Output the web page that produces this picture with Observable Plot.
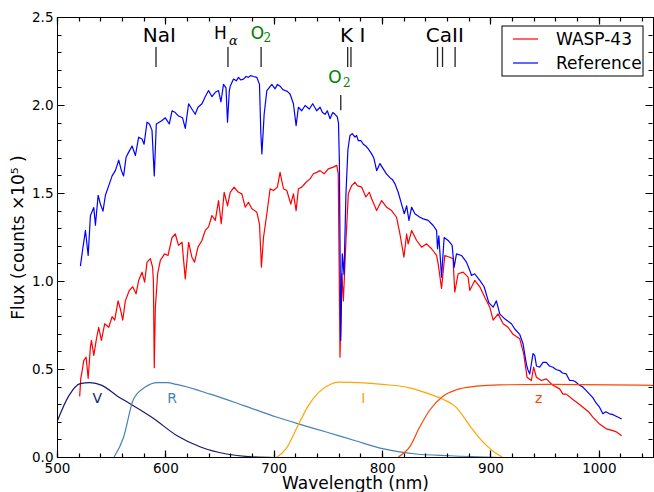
<!DOCTYPE html>
<html><head><meta charset="utf-8">
<script src="https://cdn.jsdelivr.net/npm/d3@7"></script>
<script src="https://cdn.jsdelivr.net/npm/@observablehq/plot@0.6"></script>
<style>
body{margin:0;background:#fff;}
#chart{width:654px;height:492px;}
g[aria-label="x-axis label"], g[aria-label="y-axis label"]{font-size:17px;}
</style></head><body><div id="chart"></div>
<script>
// Reference spectrum (blue)
const refWl = [521.2,523.3,525.8,528.3,530.4,533.5,535,537.5,539.6,542,544.2,547.3,550.4,553.4,556.5,559,561,563.3,565.7,568.8,571.9,574.9,578,579.9,582.6,584.8,587.2,589.3,591.2,596.5,599.5,603.2,605.7,608.7,611.7,615.4,617.9,621,624,627.1,629.6,633.3,636.3,639.4,642.5,645.6,648.6,650.8,653.2,655.5,656.9,658.5,659.4,662.4,665,667,669,671.6,674,676.2,678,680.8,683.9,686.4,687.6,688.6,689.8,690.7,693.2,697.8,700.8,703,705.4,708,710,712,714.6,717.7,720.2,722.3,725.4,728.5,732.4,735.5,739.2,742.3,744.5,746.9,749,751.5,754,756.1,758.2,759.3,760.1,761.4,762.8,764.4,766.2,768,769.9,772,774.5,776,777.6,780,782.2,784.5,786.8,789.9,792,794.5,797.6,800.6,803.7,806.8,809,811.4,814.4,817.5,820,822.2,824.3,826.8,829.8,834.4,837.5,842.1,846.7,849.8,850.7,851.9,854.4,856.8,860.5,864.2,866,868.2,872.8,877.4,880.5,882,885,889.7,893.7,898,902,905,908.1,912.7,918.9,922,926.5,929.6,932.7,934,935.8,937,938.8,940.4,942,945,948,951.1,954,957.2,960,963.4,966,969.5,972.6,975.6,978,981.8,984.9,987.9,991,994,997,1000.2,1003.3,1006,1009.4,1012,1014,1017,1020.2];
const refFlux = [1.09,1.186,1.29,1.148,1.375,1.42,1.32,1.49,1.44,1.40,1.49,1.545,1.60,1.63,1.69,1.63,1.60,1.706,1.735,1.77,1.716,1.82,1.81,1.78,1.905,1.895,1.86,1.60,1.895,1.915,1.93,1.895,1.97,1.96,1.94,1.93,1.87,2.01,1.98,1.95,1.99,2.01,2.05,2.085,2.05,2.075,2.085,2.02,2.12,2.10,1.905,2.08,2.11,2.15,2.14,2.16,2.145,2.15,2.165,2.16,2.17,2.165,2.16,2.12,1.85,1.725,1.85,1.95,2.085,2.12,2.095,2.12,2.11,2.09,2.085,2.08,2.065,2.01,1.886,1.99,1.97,2.0,1.98,2.01,1.97,1.99,1.96,1.95,1.97,1.925,1.96,1.95,1.935,1.90,1.69,0.665,1.157,1.04,1.50,1.75,1.83,1.84,1.82,1.83,1.80,1.80,1.78,1.77,1.754,1.725,1.70,1.63,1.67,1.64,1.61,1.59,1.58,1.555,1.507,1.44,1.385,1.43,1.347,1.422,1.385,1.365,1.356,1.347,1.318,1.29,1.186,1.26,1.025,1.25,1.233,1.205,1.08,1.157,1.148,1.11,1.063,1.034,1.044,1.006,0.97,0.88,0.854,0.89,0.816,0.788,0.76,0.73,0.70,0.646,0.53,0.50,0.475,0.52,0.59,0.58,0.52,0.513,0.54,0.54,0.52,0.513,0.50,0.494,0.48,0.475,0.4375,0.4375,0.43,0.41,0.40,0.38,0.36,0.34,0.31,0.286,0.248,0.26,0.248,0.245,0.239,0.23,0.22];

// WASP-43 spectrum (red)
const waspWl = [520.5,521.5,522.7,524.2,526.4,528.3,530.4,531.3,533.5,535.7,538,540.5,543.6,547.3,550.4,552.8,555.9,558,560.2,562.6,566.3,569.4,572.5,574.9,578,580.4,582.6,585.7,587.8,588.5,589.3,590.3,592.4,594.9,598.8,602,605.7,608.7,611.7,614.9,617.9,621,624,626.5,629.6,633.3,636.3,639.4,642.5,645.6,648.6,651.1,653.8,656.9,659.4,663,667,670.1,673.2,676.2,679.4,683.9,686.4,688.2,690.1,693.2,696.2,699.3,702.9,705.4,708.5,711.6,715.3,717.7,720.2,722.3,725.4,729.4,733.1,736.1,739.2,742.3,746,749.9,754.5,757.7,759.1,760.7,762.3,763.8,766.2,768.4,771.5,774.5,776.6,780.7,784.6,787.7,789.9,794.5,799.1,803.7,808.3,812.9,816,819.7,822.2,823.6,826.8,831.4,836,840.6,845.2,849.8,851.3,854.4,857.4,862,865,866.6,869.7,874.3,878.9,880.5,885.1,889.7,894.3,898.9,902,906.6,911.2,915.8,920.4,926.5,930.2,933.3,937.3,939.4,941.9,946.5,951.1,957.2,963.4,966.4,969.5,975.6,980,984.9,990,994,1000.2,1006.4,1012.5,1016,1020.2];
const waspFlux = [0.35,0.45,0.49,0.55,0.57,0.45,0.63,0.665,0.58,0.665,0.74,0.665,0.76,0.74,0.80,0.78,0.89,0.845,0.78,0.89,0.95,0.97,0.93,1.006,1.053,0.996,1.11,1.13,1.08,1.0,0.51,0.85,1.044,1.12,1.157,1.148,1.25,1.27,1.205,1.223,1.015,1.223,1.138,1.11,1.195,1.233,1.29,1.31,1.375,1.347,1.46,1.328,1.507,1.43,1.507,1.536,1.507,1.498,1.422,1.45,1.413,1.394,1.328,1.081,1.25,1.385,1.527,1.517,1.536,1.62,1.527,1.517,1.44,1.498,1.403,1.527,1.536,1.564,1.583,1.612,1.62,1.63,1.612,1.64,1.65,1.66,1.61,0.57,1.044,0.89,1.233,1.50,1.545,1.564,1.545,1.536,1.48,1.507,1.47,1.403,1.46,1.422,1.403,1.365,1.27,1.138,1.27,1.214,1.29,1.233,1.195,1.214,1.186,1.148,1.10,0.96,1.148,1.138,1.13,0.94,1.044,1.053,1.025,0.95,1.006,0.97,0.91,0.854,0.78,0.816,0.76,0.74,0.70,0.675,0.59,0.456,0.4375,0.513,0.456,0.4375,0.447,0.41,0.39,0.36,0.36,0.33,0.31,0.286,0.26,0.229,0.19,0.163,0.153,0.145,0.125];

// Filter transmission curves (scaled)
const vWl = [500,510.4,521,530,541,555,567,589,610,632,656,676,700];
const vT  = [0.21,0.35,0.42,0.425,0.41,0.35,0.305,0.22,0.125,0.06,0.02,0.005,0];
const rWl = [552,561,570,581,592,601,610,641,672,702,723,748,775,800,831,862,910];
const rT  = [0,0.115,0.33,0.40,0.425,0.425,0.415,0.36,0.295,0.23,0.19,0.145,0.095,0.05,0.02,0.01,0];
const iWl = [702,711,721,731.5,741,751.5,760,779,800,825,843.6,856,868,880.5,892.7,902,911];
const iT  = [0,0.05,0.17,0.295,0.37,0.415,0.428,0.425,0.415,0.396,0.36,0.33,0.285,0.18,0.087,0.036,0];
const zWl = [815,825,834,843.6,856,868,886.6,908,954,1050];
const zT  = [0.005,0.06,0.17,0.27,0.35,0.385,0.405,0.413,0.415,0.41];

const filterNames = ["V","R","I","z"];
const filterColors = ["#191970","#4682b4","#ffa500","#ff4500"];
const filterLabelX = [536.6,605.7,782.2,944];
const filterLabelY = 0.335;

// Line identifications
const lineLabels = ["NaI","K I","CaII"];
const lineLabelX = [594,772.4,857.4];
const lineMarkX = [590.9,657.3,687.9,767.8,770.8,850.7,855.3,866.9];
const lowerMarkX = [761.4];
const markY1 = 2.216, markY2 = 2.33, lowY1 = 1.97, lowY2 = 2.057;

const xTicks = [500,600,700,800,900,1000];
const yTicks = [0,0.5,1.0,1.5,2.0,2.5];
const xMinor = d3.range(500,1051,20);
const yMinor = d3.range(0,2.501,0.1);

const toRows = (xs, ys) => xs.map((x,i)=>({x, y: ys[i]}));
const ref = toRows(refWl, refFlux);
const wasp = toRows(waspWl, waspFlux);
const filters = [toRows(vWl,vT), toRows(rWl,rT), toRows(iWl,iT), toRows(zWl,zT)];
const F = "DejaVu Sans";

const W = 654, H = 492, MT = 17, MR = 1, MB = 35, ML = 57;

const plot = Plot.plot({
  width: W, height: H,
  marginTop: MT, marginRight: MR, marginBottom: MB, marginLeft: ML,
  style: {fontFamily: F, fontSize: "13.5px", color: "black", background: "white", overflow: "visible"},
  x: {domain: [500,1050]},
  y: {domain: [0,2.5]},
  marks: [
    Plot.line(wasp, {x:"x", y:"y", stroke:"#ff0000", strokeWidth:1.2}),
    Plot.line(ref, {x:"x", y:"y", stroke:"#0000ff", strokeWidth:1.2}),
    ...filters.map((d,i)=>Plot.line(d, {x:"x", y:"y", stroke: filterColors[i], strokeWidth:1.2, curve:"monotone-x"})),
    Plot.text(filterNames, {x: (d,i)=>filterLabelX[i], y: filterLabelY, text: d=>d, fill: (d,i)=>filterColors[i], fontSize: 14, fontFamily: F}),
    Plot.ruleX(lineMarkX, {x: d=>d, y1: markY1, y2: markY2, stroke:"#222", strokeWidth:1.3}),
    Plot.ruleX(lowerMarkX, {x: d=>d, y1: lowY1, y2: lowY2, stroke:"#222", strokeWidth:1.3}),
    Plot.text(lineLabels, {x:(d,i)=>lineLabelX[i], y: 2.399, text: d=>d, fontSize: 20, fontFamily: F, fill:"black"}),
    Plot.text(["H"], {x: 650.4, y: 2.41, text: d=>d, fontSize: 17, fontFamily: F, fill:"black"}),
    Plot.text(["α"], {x: 662.4, y: 2.365, text: d=>d, fontSize: 13, fontFamily: "DejaVu Serif", fontStyle: "italic", fill:"black"}),
    Plot.text(["O"], {x: 684.5, y: 2.41, text: d=>d, fontSize: 17, fontFamily: F, fill:"green"}),
    Plot.text(["2"], {x: 693.7, y: 2.38, text: d=>d, fontSize: 12, fontFamily: "DejaVu Serif", fill:"green"}),
    Plot.text(["O"], {x: 756.1, y: 2.161, text: d=>d, fontSize: 17, fontFamily: F, fill:"green"}),
    Plot.text(["2"], {x: 766.9, y: 2.128, text: d=>d, fontSize: 12, fontFamily: "DejaVu Serif", fill:"green"}),
    Plot.frame({stroke:"black", strokeWidth:1}),
    Plot.axisX({anchor:"bottom", ticks: xTicks, tickSize:0, tickPadding:6, tickFormat: d=>String(d), label:"Wavelength (nm)", labelAnchor:"center", labelArrow:"none", labelOffset:31}),
    Plot.axisY({anchor:"left", ticks: yTicks, tickSize:0, tickPadding:4, tickFormat: d3.format(".1f"), label:"Flux (counts ×10⁵ )", labelAnchor:"center", labelArrow:"none", labelOffset:46})
  ]
});

const svg = d3.select(plot);
// inward ticks on all four sides, positioned through the plot's own scales
const sx = plot.scale("x"), sy = plot.scale("y");
const tg = svg.append("g").attr("stroke", "black").attr("stroke-width", 1.2).attr("fill", "none");
const bottomY = H - MB + 0.5, topY = MT + 0.5, leftX = ML + 0.5, rightX = W - MR - 0.5;
const addXTicks = (vals, len) => vals.forEach(v => {
  const px = Math.round(sx.apply(v)) + 0.5;
  tg.append("path").attr("d", `M${px},${bottomY}V${bottomY - len}M${px},${topY}V${topY + len}`);
});
const addYTicks = (vals, len) => vals.forEach(v => {
  const py = Math.round(sy.apply(v)) + 0.5;
  tg.append("path").attr("d", `M${leftX},${py}H${leftX + len}M${rightX},${py}H${rightX - len}`);
});
addXTicks(xTicks, 7); addXTicks(xMinor, 4);
addYTicks(yTicks, 7); addYTicks(yMinor, 4);

// Legend box (upper right)
const legendNames = ["WASP-43","Reference"];
const legendColors = ["#ff0000","#0000ff"];
const lg = svg.append("g").attr("font-family", F).attr("font-size", 17).attr("text-anchor", "start");
lg.append("rect").attr("x",502).attr("y",26).attr("width",141).attr("height",50).attr("fill","white").attr("stroke","black").attr("stroke-width",1);
legendNames.forEach((n,i)=>{
  const cy = 39 + i*24;
  lg.append("line").attr("x1",513).attr("x2",538).attr("y1",cy).attr("y2",cy).attr("stroke",legendColors[i]).attr("stroke-width",1.2);
  lg.append("text").attr("x",556).attr("y",cy+6).attr("fill","black").text(n);
});
document.getElementById("chart").appendChild(plot);
</script></body></html>
